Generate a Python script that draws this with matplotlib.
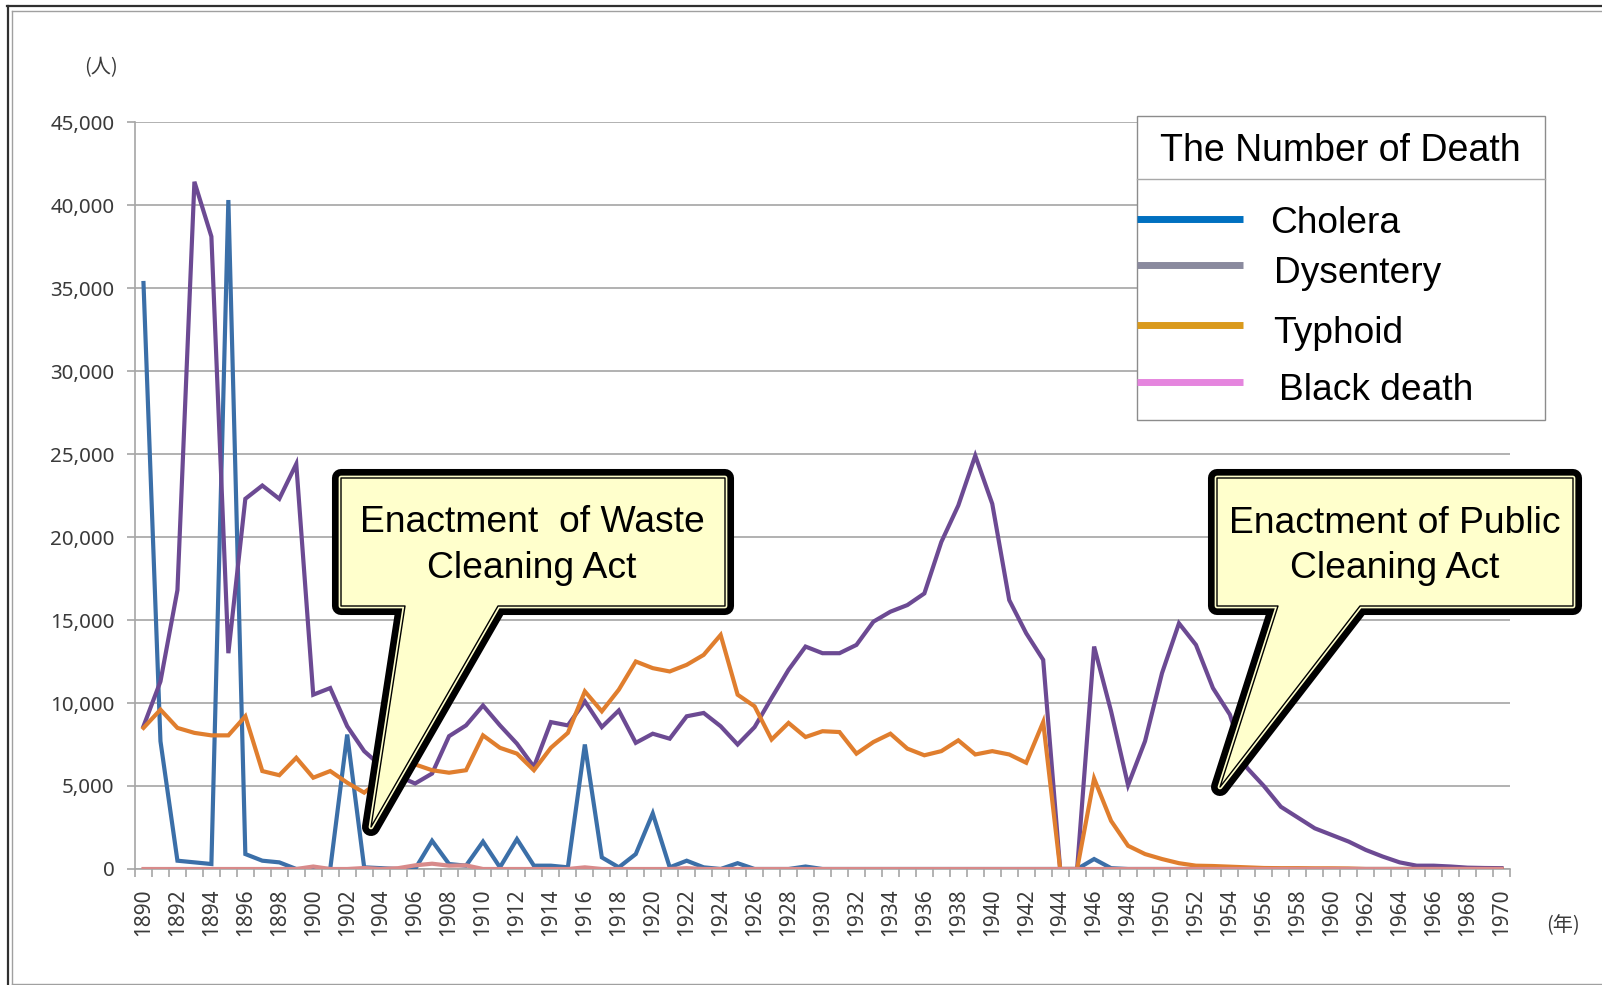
import numpy as np
import matplotlib
matplotlib.use("Agg")
import matplotlib.pyplot as plt
import matplotlib.patheffects as pe
from matplotlib.patches import Polygon, Rectangle
from matplotlib.ticker import FuncFormatter

# ---- data (deaths per year, 1890-1970) ----
years = list(range(1890, 1971))

cholera = [35300, 7700, 500, 400, 300, 40300, 900, 500, 400, 0,
           0, 0, 8100, 100, 50, 0, 0, 1700, 300, 200,
           1650, 100, 1800, 200, 200, 100, 7500, 700, 100, 900,
           3350, 100, 500, 100, 0, 350, 0, 0, 0, 150,
           0, 0, 0, 0, 0, 0, 0, 0, 0, 0,
           0, 0, 0, 0, 0, 0, 600, 50, 0, 0,
           0, 0, 0, 0, 0, 0, 0, 0, 0, 0,
           0, 0, 0, 0, 0, 0, 0, 0, 0, 0,
           0]

dysentery = [8600, 11300, 16800, 41400, 38100, 13000, 22300, 23100, 22300, 24400,
             10500, 10900, 8600, 7100, 6200, 5600, 5150, 5750, 8000, 8650,
             9850, 8650, 7550, 6150, 8850, 8650, 10100, 8550, 9550, 7600,
             8150, 7850, 9200, 9400, 8600, 7500, 8550, 10300, 12000, 13400,
             13000, 13000, 13500, 14900, 15500, 15900, 16600, 19700, 21900, 24900,
             22000, 16200, 14200, 12600, 0, 0, 13400, 9500, 5050, 7700,
             11800, 14800, 13500, 10900, 9300, 6100, 5000, 3750, 3100, 2450,
             2050, 1650, 1150, 750, 400, 200, 200, 150, 80, 60,
             50]

typhoid = [8500, 9600, 8500, 8200, 8050, 8050, 9200, 5900, 5650, 6700,
           5500, 5900, 5200, 4600, 5400, 6200, 6300, 5950, 5800, 5950,
           8050, 7300, 6950, 5950, 7300, 8200, 10700, 9500, 10800, 12500,
           12100, 11900, 12300, 12900, 14100, 10500, 9800, 7800, 8800, 7950,
           8300, 8250, 6950, 7650, 8150, 7250, 6850, 7100, 7750, 6900,
           7100, 6900, 6400, 8850, 0, 0, 5450, 2900, 1400, 900,
           600, 350, 200, 180, 140, 100, 60, 50, 50, 40,
           40, 30, 0, 0, 0, 0, 0, 0, 0, 0,
           0]

black_death = [0, 0, 0, 0, 0, 0, 0, 0, 0, 0,
               150, 0, 0, 60, 0, 50, 220, 320, 200, 220,
               0, 0, 0, 0, 0, 0, 100, 0, 0, 0,
               0, 0, 50, 0, 0, 0, 0, 0, 0, 0,
               0, 0, 0, 0, 0, 0, 0, 0, 0, 0,
               0, 0, 0, 0, 0, 0, 0, 0, 0, 0,
               0, 0, 0, 0, 0, 0, 0, 0, 0, 0,
               0, 0, 0, 0, 0, 0, 0, 0, 0, 0,
               0]

series_names = ["Cholera", "Dysentery", "Typhoid", "Black death"]
line_colors = ["#3B6FA8", "#6C4A93", "#E07E2E", "#D88A8A"]
legend_colors = ["#0070C0", "#8A8A9E", "#DA9A1C", "#E585DE"]

W, H = 1602, 985
plt.rcParams['font.family'] = ['Noto Sans', 'Noto Sans CJK JP', 'DejaVu Sans']

fig = plt.figure(figsize=(W / 100, H / 100), dpi=100)
fig.patch.set_facecolor("white")

# main plot area (pixel box 135..1510 x 122..869)
ax = fig.add_axes([135 / W, 1 - 869 / H, (1510 - 135) / W, (869 - 122) / H])
x = np.arange(len(years))
for vals, col in zip([cholera, dysentery, typhoid, black_death], line_colors):
    ax.plot(x, vals, color=col, lw=3.0, solid_joinstyle="miter", zorder=3)

ax.set_xlim(-0.5, len(years) - 0.5)
ax.set_ylim(0, 45000)
ax.set_yticks(range(0, 45001, 5000))
ax.yaxis.set_major_formatter(FuncFormatter(lambda v, p: f"{int(v):,}"))
ax.yaxis.grid(True, color="#ABABAB", lw=1.3)
ax.set_axisbelow(True)
for s in ["top", "right"]:
    ax.spines[s].set_visible(False)
for s in ["left", "bottom"]:
    ax.spines[s].set_color("#A6A6A6")
    ax.spines[s].set_linewidth(1.2)

# year labels every other year, tick marks between categories
ax.set_xticks(x[::2])
ax.set_xticklabels([str(y) for y in years[::2]], rotation=90)
ax.set_xticks(np.arange(-0.5, len(years), 1), minor=True)
ax.tick_params(axis="x", which="major", length=0, pad=14, labelsize=15, labelcolor="#3A3A3A")
ax.tick_params(axis="x", which="minor", length=5.5, color="#A6A6A6", width=1.2)
ax.tick_params(axis="y", length=5.8, color="#A6A6A6", width=1.2, pad=9,
               labelsize=14.8, labelcolor="#3A3A3A")

# overlay in pixel coords for frame, legend and callouts
ov = fig.add_axes([0, 0, 1, 1], zorder=5)
ov.set_xlim(0, W)
ov.set_ylim(H, 0)
ov.axis("off")
ov.patch.set_alpha(0)

# outer frame
ov.plot([7, W], [6, 6], color="#303030", lw=1.6)
ov.plot([7.5, 7.5], [6, H], color="#303030", lw=1.6)
ov.plot([12, W], [10.5, 10.5], color="#A0A0A0", lw=1.0)
ov.plot([12, 12], [10.5, 983.5], color="#A0A0A0", lw=1.0)
ov.plot([12, W], [983.5, 983.5], color="#A0A0A0", lw=1.0)

ov.text(101, 68, "(人)", ha="center", va="center", fontsize=14.5, color="#3A3A3A",
        family=["Noto Sans CJK JP", "DejaVu Sans"])
ov.text(1563, 926, "(年)", ha="center", va="center", fontsize=14.5, color="#3A3A3A",
        family=["Noto Sans CJK JP", "DejaVu Sans"])

# legend box
ov.add_patch(Rectangle((1137, 116), 1545 - 1137, 420 - 116, facecolor="white",
                       edgecolor="#8C8C8C", lw=1.0))
ov.plot([1137, 1545], [179, 179], color="#A8A8A8", lw=1.0)
ov.text(1340, 161, "The Number of Death", ha="center", va="baseline",
        fontsize=27, family="Liberation Sans", color="black")
leg_y = [219, 265, 325, 382]
txt_x = [1270, 1274, 1273, 1279]
txt_base = [233, 283, 343, 400]
for name, col, ly, tx, tb in zip(series_names, legend_colors, leg_y, txt_x, txt_base):
    ov.plot([1137, 1243], [ly, ly], color=col, lw=5, solid_capstyle="butt")
    ov.text(tx, tb, name, ha="left", va="baseline", fontsize=26.7,
            family="Liberation Sans", color="black")


def callout(left, right, top, bottom, base_l, base_r, tip, lines, cx, baselines):
    pts = [(left, top), (right, top), (right, bottom), (base_r, bottom), tip,
           (base_l, bottom), (left, bottom)]
    poly = Polygon(pts, closed=True, facecolor="#FFFFCC", edgecolor="black", lw=1.0,
                   joinstyle="round")
    poly.set_path_effects([pe.Stroke(linewidth=13, foreground="black", joinstyle="round"),
                           pe.Stroke(linewidth=3.4, foreground="#FFFFCC", joinstyle="round"),
                           pe.Normal()])
    ov.add_patch(poly)
    for t, b in zip(lines, baselines):
        ov.text(cx, b, t, ha="center", va="baseline", fontsize=26.8,
                family="Liberation Sans", color="black")


callout(341, 725, 478, 606, 405, 498, (371, 827),
        ["Enactment  of Waste", "Cleaning Act"], 532, [532, 578])
callout(1217, 1573, 478, 606, 1278, 1360, (1220, 787),
        ["Enactment of Public", "Cleaning Act"], 1395, [533, 578])

fig.savefig("out.png", dpi=100)
